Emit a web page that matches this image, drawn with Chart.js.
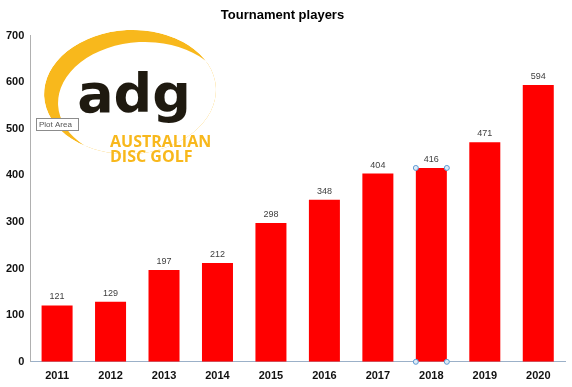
<!DOCTYPE html>
<html>
<head>
<meta charset="utf-8">
<script src="https://cdn.jsdelivr.net/npm/chart.js@4"></script>
<style>
  html, body { margin: 0; padding: 0; background: #fff; }
  #wrap { width: 572px; height: 387px; position: relative; }
</style>
</head>
<body>
<div id="wrap"><canvas id="chart"></canvas></div>
<script>
const years = ['2011', '2012', '2013', '2014', '2015', '2016', '2017', '2018', '2019', '2020'];
const players = [121, 129, 197, 212, 298, 348, 404, 416, 471, 594];
const yTicks = [0, 100, 200, 300, 400, 500, 600, 700];

// logo in the upper left (drawn before the bars)
const logoPlugin = {
  id: 'logo',
  beforeDatasetsDraw(chart) {
    const { ctx } = chart;
    ctx.save();
    // yellow swoosh: outer ellipse minus a shifted inner ellipse
    ctx.beginPath();
    ctx.ellipse(130, 92, 86, 62, -0.05, 0, Math.PI * 2);
    ctx.clip();
    ctx.fillStyle = '#f8b81c';
    ctx.beginPath();
    ctx.ellipse(130, 92, 86, 62, -0.05, 0, Math.PI * 2);
    ctx.ellipse(142, 101, 84, 59, -0.05, 0, Math.PI * 2, true);
    ctx.fill('evenodd');
    ctx.restore();
    ctx.save();
    // adg
    ctx.fillStyle = '#1f1a10';
    ctx.font = "bold 54px 'DejaVu Sans', sans-serif";
    ctx.textAlign = 'center';
    ctx.textBaseline = 'alphabetic';
    ctx.fillText('adg', 134, 112);
    // australian disc golf
    ctx.fillStyle = '#f8b81c';
    ctx.font = "bold 16px 'Open Sans', sans-serif";
    ctx.textAlign = 'left';
    ctx.fillText('AUSTRALIAN', 110, 147);
    ctx.fillText('DISC GOLF', 110, 162);
    // excel tooltip
    ctx.fillStyle = '#fff';
    ctx.strokeStyle = '#8c8c8c';
    ctx.lineWidth = 1;
    ctx.fillRect(36.5, 118.5, 42, 12);
    ctx.strokeRect(36.5, 118.5, 42, 12);
    ctx.fillStyle = '#555';
    ctx.font = "8px 'Liberation Sans', sans-serif";
    ctx.textBaseline = 'middle';
    ctx.fillText('Plot Area', 39, 125);
    ctx.restore();
  }
};

const valueLabels = {
  id: 'valueLabels',
  afterDatasetsDraw(chart) {
    const { ctx } = chart;
    ctx.save();
    ctx.font = "9px 'Liberation Sans', sans-serif";
    ctx.fillStyle = '#404040';
    ctx.textAlign = 'center';
    ctx.textBaseline = 'bottom';
    chart.getDatasetMeta(0).data.forEach((bar, i) => {
      ctx.fillText(players[i], bar.x, bar.y - 4);
    });
    // selection handles on the 2018 bar
    const sel = chart.getDatasetMeta(0).data[years.indexOf('2018')];
    const half = sel.width / 2;
    ctx.strokeStyle = '#5b9bd5';
    ctx.fillStyle = '#dfeaf6';
    ctx.lineWidth = 1;
    [[sel.x - half, sel.y], [sel.x + half, sel.y], [sel.x - half, sel.base], [sel.x + half, sel.base]].forEach(([x, y]) => {
      ctx.beginPath();
      ctx.arc(x, y, 2.5, 0, Math.PI * 2);
      ctx.fill();
      ctx.stroke();
    });
    ctx.restore();
  }
};

new Chart(document.getElementById('chart'), {
  type: 'bar',
  data: {
    labels: years,
    datasets: [{
      data: players,
      backgroundColor: '#ff0000',
      barPercentage: 0.58,
      categoryPercentage: 1
    }]
  },
  options: {
    responsive: true,
    maintainAspectRatio: false,
    animation: false,
    layout: { padding: { left: 0, right: 7, top: 0, bottom: 4 } },
    plugins: {
      legend: { display: false },
      tooltip: { enabled: false },
      title: {
        display: true,
        text: 'Tournament players',
        color: '#000',
        font: { family: "'Liberation Sans', sans-serif", size: 13, weight: 'bold' },
        padding: { top: 8, bottom: 12 }
      }
    },
    scales: {
      x: {
        grid: { display: false },
        border: { color: '#9bb0c8' },
        ticks: {
          color: '#111',
          padding: 0,
          font: { family: "'Liberation Sans', sans-serif", size: 11, weight: 'bold' }
        }
      },
      y: {
        min: 0,
        max: 700,
        grid: { display: false, drawTicks: false },
        border: { color: '#b0b0b0' },
        afterBuildTicks(axis) { axis.ticks = yTicks.map(v => ({ value: v })); },
        ticks: {
          color: '#111',
          padding: 6,
          font: { family: "'Liberation Sans', sans-serif", size: 11, weight: 'bold' }
        }
      }
    }
  },
  plugins: [logoPlugin, valueLabels]
});
</script>
</body>
</html>
